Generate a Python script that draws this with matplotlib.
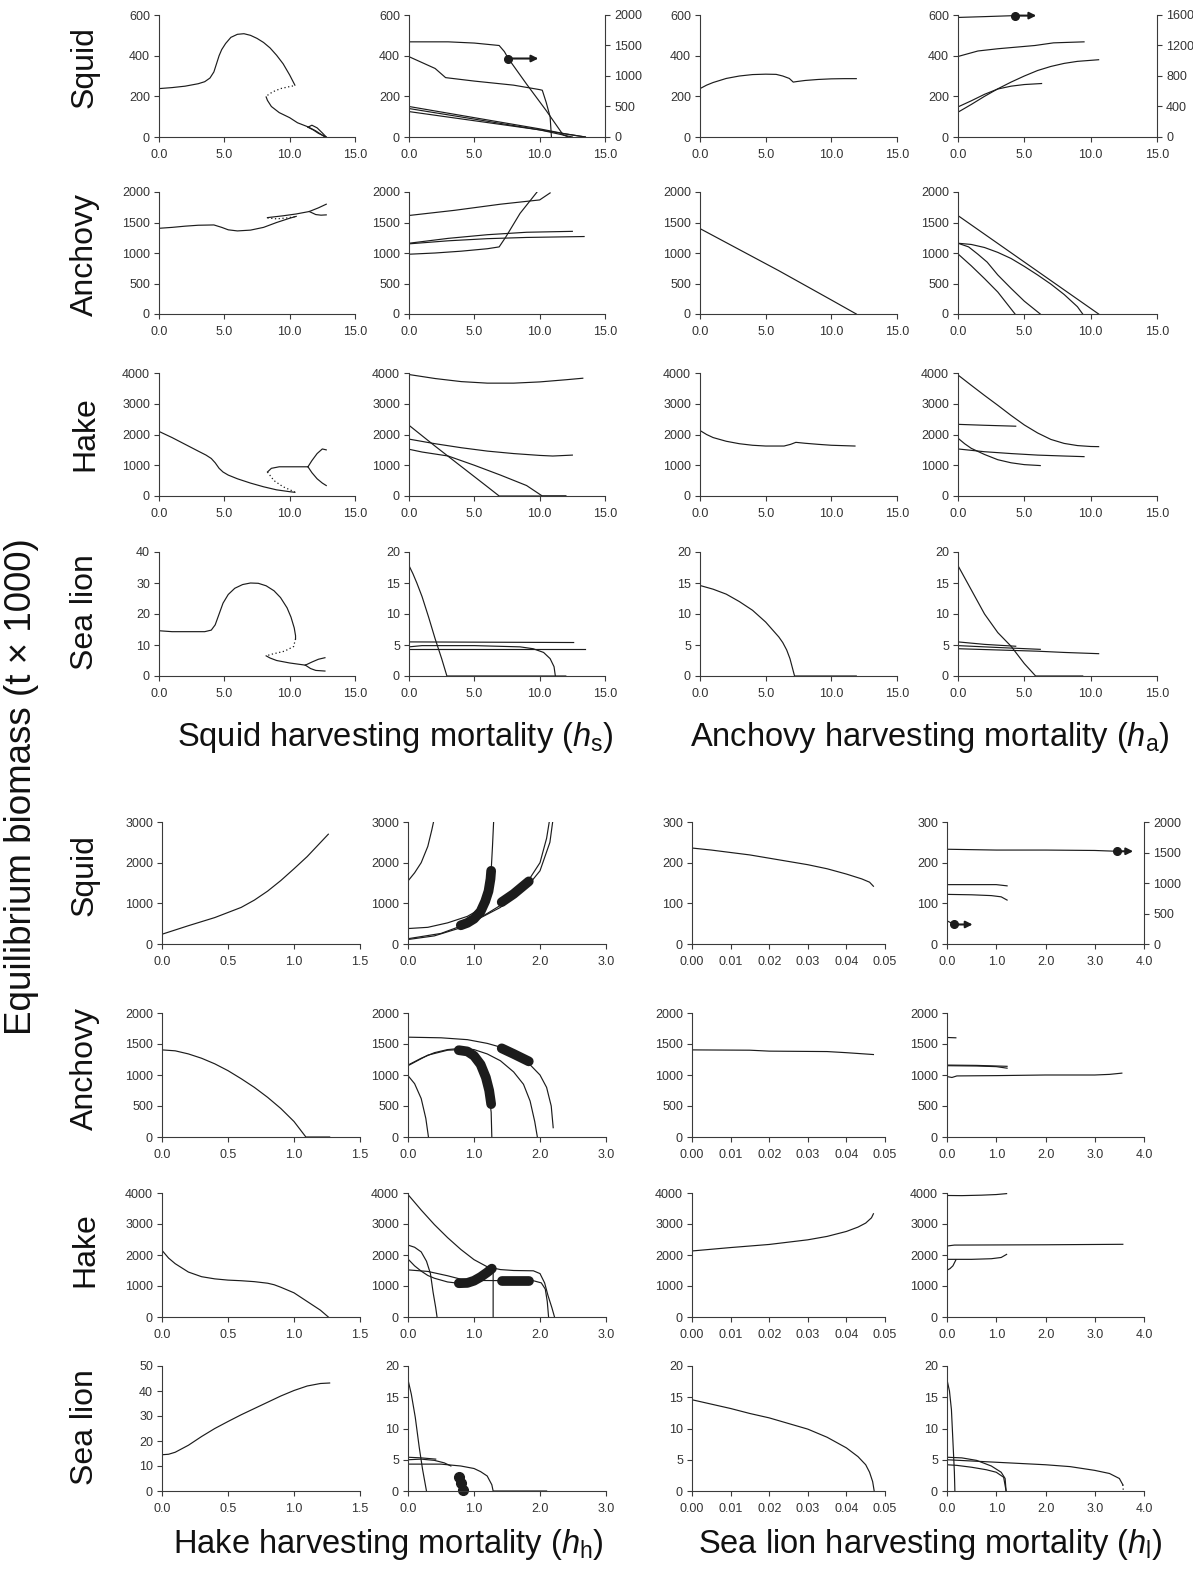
import numpy as np
import matplotlib
matplotlib.use("Agg")
import matplotlib.pyplot as plt

plt.rcParams["font.family"] = ["Liberation Sans", "DejaVu Sans"]
plt.rcParams["mathtext.fontset"] = "custom"
plt.rcParams["mathtext.rm"] = "Liberation Sans"
plt.rcParams["mathtext.it"] = "Liberation Sans:italic"

W, H = 1193, 1572
INK = "#1c1c1c"
AXIS = "#3a3a3a"

SPECIES = ["Squid", "Anchovy", "Hake", "Sea lion"]

# ---- squid harvesting (h_s), single-species column ----
SQUID_HS = [
    ([0, 1, 2, 3, 3.5, 3.9, 4.2, 4.4, 4.6, 4.8, 5.1, 5.5, 6.0, 6.5, 7.0, 7.5, 8.0, 8.5, 9.0, 9.5, 10.0, 10.4],
     [238, 243, 250, 262, 272, 290, 320, 360, 400, 430, 460, 490, 505, 508, 500, 485, 465, 438, 402, 360, 305, 255]),
    ([8.2, 8.3, 8.6, 9.2, 10.0, 10.6, 11.4, 12.0, 12.7], [197, 180, 150, 120, 95, 70, 50, 30, 0]),
    ([11.4, 11.7, 12.1, 12.5, 12.8], [48, 58, 45, 20, 0]),
    ([11.4, 11.8, 12.2, 12.8], [48, 35, 18, 0]),
]
SQUID_HS_UNSTABLE = [([8.3, 8.7, 9.3, 10.0, 10.4], [205, 222, 238, 248, 253])]

ANCHOVY_HS = [
    ([0, 1, 2, 3, 4.2, 4.8, 5.3, 6, 7, 8, 9, 10, 10.5],
     [1405, 1420, 1440, 1455, 1460, 1420, 1380, 1362, 1375, 1420, 1500, 1570, 1600]),
    ([8.3, 9.5, 10.5, 11.5, 12.2, 12.8], [1580, 1610, 1640, 1680, 1740, 1800]),
    ([11.5, 12.0, 12.4, 12.8], [1680, 1630, 1620, 1625]),
]
ANCHOVY_HS_UNSTABLE = [([8.3, 9.0, 9.8, 10.5], [1575, 1560, 1575, 1600])]

HAKE_HS = [
    ([0, 1, 2, 3, 3.6, 4.0, 4.3, 4.6, 4.9, 5.3, 6, 7, 8, 9, 10, 10.4],
     [2100, 1900, 1680, 1460, 1330, 1220, 1080, 900, 780, 680, 560, 420, 300, 200, 140, 120]),
    ([8.3, 8.6, 9.2, 11.4], [780, 900, 950, 950]),
    ([11.4, 11.7, 12.1, 12.5, 12.8], [950, 1150, 1380, 1530, 1500]),
    ([11.4, 11.7, 12.1, 12.5, 12.8], [950, 760, 560, 420, 340]),
]
HAKE_HS_UNSTABLE = [([8.3, 8.8, 9.5, 10.4], [780, 500, 300, 130])]

SEALION_HS = [
    ([0, 1, 3.5, 4.0, 4.3, 4.6, 4.9, 5.3, 5.8, 6.4, 7.0, 7.6, 8.2, 8.8, 9.3, 9.8, 10.1, 10.35, 10.45, 10.45],
     [14.6, 14.3, 14.3, 14.8, 16.5, 20, 23.5, 26.3, 28.3, 29.5, 30, 29.9, 29.1, 27.5, 25.3, 22, 19, 15.5, 13, 12]),
    ([8.2, 8.5, 9, 10, 11.2], [6.5, 5.8, 5, 4.2, 3.5]),
    ([11.2, 11.7, 12.2, 12.7], [3.5, 4.5, 5.4, 5.9]),
    ([11.2, 11.6, 12, 12.7], [3.5, 2.4, 1.8, 1.6]),
]
SEALION_HS_UNSTABLE = [([10.45, 10.3, 9.6, 8.6, 8.2], [12, 9.5, 8, 7, 6.5])]

# ---- squid harvesting (h_s), multi-species column ----
SQUID_HS_M = [
    ([0, 3, 5, 6.9, 7.3, 7.6, 9, 10.5, 11.8, 12.2], [468, 468, 462, 450, 420, 386, 260, 130, 10, 0]),
    ([0, 2, 2.8, 5, 8, 10.0, 10.2, 10.5, 10.8, 10.9], [395, 337, 292, 275, 255, 233, 230, 170, 99, 0]),
    ([0, 5, 10, 12, 13.5], [150, 95, 40, 15, 0]),
    ([0, 5, 10, 12.5], [140, 88, 35, 0]),
    ([0, 5, 10, 13.5], [125, 80, 35, 0]),
]
SQUID_HS_M_ARROW = [(7.6, 9.9, 386)]

ANCHOVY_HS_M = [
    ([0, 3.5, 7, 10, 10.8], [1615, 1700, 1800, 1870, 1985]),
    ([0, 2, 4, 6, 6.9, 7.4, 8.5, 9.8], [980, 1000, 1030, 1070, 1100, 1260, 1650, 2000]),
    ([0, 3, 6, 9, 12.5], [1160, 1240, 1300, 1340, 1355]),
    ([0, 3, 6, 9, 13.4], [1150, 1200, 1235, 1255, 1270]),
]

HAKE_HS_M = [
    ([0, 2, 4, 6, 8, 10, 12, 13.3], [3950, 3820, 3720, 3670, 3670, 3710, 3780, 3830]),
    ([0, 2, 4, 6, 8, 10, 11, 12.5], [1850, 1700, 1570, 1460, 1380, 1320, 1300, 1330]),
    ([0, 1, 3, 5, 7, 9, 10.2, 12], [1520, 1430, 1300, 1000, 680, 340, 0, 0]),
    ([0, 2, 4, 6, 6.9, 12], [2300, 1620, 960, 300, 0, 0]),
]

SEALION_HS_M = [
    ([0, 0.3, 0.6, 1, 1.5, 2, 2.5, 2.9, 11.2], [17.8, 16.5, 15.0, 12.8, 9.5, 6, 2.8, 0, 0]),
    ([0, 12.6], [5.5, 5.4]),
    ([0, 1, 5, 8.5, 9.5, 10.3, 10.8, 11.1, 11.2, 12], [4.7, 4.9, 4.9, 4.7, 4.4, 3.8, 2.8, 1.5, 0, 0]),
    ([0, 13.5], [4.3, 4.3]),
]

# ---- anchovy harvesting (h_a), single-species column ----
SQUID_HA = [([0, 0.5, 1, 2, 3, 4, 5, 5.8, 6.3, 6.8, 7.1, 7.4, 8, 9, 10, 11, 11.9],
              [238, 255, 268, 288, 300, 307, 309, 308, 300, 288, 270, 273, 278, 283, 286, 287, 287])]
ANCHOVY_HA = [([0, 2, 4, 6, 8, 10, 11.9], [1400, 1170, 940, 710, 470, 230, 0])]
HAKE_HA = [([0, 0.5, 1, 2, 3, 4, 5, 6.4, 6.9, 7.3, 8, 9, 10, 11.8],
             [2130, 2000, 1900, 1780, 1700, 1650, 1625, 1625, 1680, 1745, 1715, 1680, 1650, 1625])]
SEALION_HA = [([0, 1, 2, 3, 4, 5, 5.5, 6, 6.3, 6.6, 6.85, 7.05, 7.2, 11.9],
                [14.6, 14, 13.2, 12, 10.6, 8.7, 7.5, 6.3, 5.4, 4.2, 2.8, 1.2, 0, 0])]

# ---- anchovy harvesting (h_a), multi-species column ----
SQUID_HA_M = [
    ([0, 2, 4.3], [588, 592, 597]),
    ([0, 1.5, 3, 5.8, 7.2, 9.5], [396, 423, 434, 450, 463, 468]),
    ([0, 1, 2, 3, 4, 5, 6, 7, 8, 9, 10.6], [122, 160, 200, 237, 270, 300, 327, 347, 362, 372, 380]),
    ([0, 1, 2, 3, 4, 5, 6.3], [148, 178, 210, 236, 250, 258, 263]),
]
SQUID_HA_M_ARROW = [(4.3, 5.9, 597)]

ANCHOVY_HA_M = [
    ([0, 10.6], [1613, 0]),
    ([0, 1, 2, 3, 4, 5, 6, 7, 8, 9, 9.4], [1160, 1140, 1090, 1010, 910, 780, 640, 490, 320, 120, 0]),
    ([0, 0.8, 1.5, 2.2, 3, 4, 5, 6.2], [1160, 1100, 980, 850, 640, 420, 210, 0]),
    ([0, 1, 2, 3, 4.3], [985, 790, 580, 360, 0]),
]

HAKE_HA_M = [
    ([0, 1, 2, 3, 4, 5, 6, 7, 8, 9, 10, 10.6],
     [3935, 3600, 3270, 2950, 2620, 2310, 2050, 1840, 1710, 1640, 1610, 1605]),
    ([0, 2, 4.35], [2330, 2300, 2270]),
    ([0, 2, 4, 6, 8, 9.5], [1530, 1440, 1380, 1330, 1300, 1280]),
    ([0, 0.5, 1, 2, 3, 4, 5, 6.2], [1880, 1700, 1550, 1350, 1180, 1080, 1020, 990]),
]

SEALION_HA_M = [
    ([0, 1, 2, 3, 4, 5, 5.85, 9.4], [17.8, 13.9, 10, 7, 4.8, 2, 0, 0]),
    ([0, 2, 4.35], [5.5, 5.1, 4.8]),
    ([0, 3, 6.2], [4.9, 4.6, 4.3]),
    ([0, 3, 6, 8, 10.6], [4.4, 4.2, 4.0, 3.8, 3.6]),
]

# ---- hake harvesting (h_h) ----
SQUID_HH = [([0, 0.2, 0.4, 0.6, 0.7, 0.8, 0.9, 1.0, 1.1, 1.26],
              [240, 450, 650, 900, 1080, 1300, 1560, 1850, 2150, 2700])]
SQUID_HH_M = [
    ([0, 0.1, 0.2, 0.3, 0.36, 0.4], [1550, 1750, 2000, 2400, 2800, 3100]),
    ([0, 0.3, 0.6, 0.9, 1.05, 1.15, 1.22, 1.26, 1.28, 1.3], [380, 410, 520, 680, 820, 1000, 1300, 1800, 2400, 3100]),
    ([0, 0.4, 0.8, 1.2, 1.5, 1.8, 2.0, 2.1, 2.15], [110, 200, 400, 750, 1050, 1500, 2000, 2600, 3100]),
    ([0, 0.5, 1.0, 1.4, 1.8, 2.0, 2.15, 2.2], [130, 260, 560, 900, 1400, 1800, 2500, 3100]),
]
SQUID_HH_M_CYCLE = [
    ([0.8, 0.9, 1.0, 1.1, 1.17, 1.22, 1.25, 1.26], [460, 520, 620, 800, 1050, 1300, 1600, 1800]),
    ([1.42, 1.6, 1.83], [1030, 1230, 1540]),
]

ANCHOVY_HH = [([0, 0.1, 0.2, 0.3, 0.4, 0.5, 0.6, 0.7, 0.8, 0.9, 1.0, 1.09, 1.27],
                [1405, 1390, 1340, 1270, 1180, 1070, 940, 800, 640, 460, 250, 0, 0])]
ANCHOVY_HH_M = [
    ([0, 0.5, 0.9, 1.2, 1.5, 1.8, 2.0, 2.1, 2.17, 2.2], [1610, 1600, 1570, 1510, 1420, 1220, 1000, 800, 500, 150]),
    ([0, 0.2, 0.4, 0.6, 0.8, 1.0, 1.2, 1.4, 1.6, 1.75, 1.85, 1.92, 1.96],
     [1160, 1270, 1360, 1410, 1430, 1410, 1340, 1230, 1050, 850, 580, 250, 0]),
    ([0, 0.3, 0.6, 0.8, 1.0, 1.15, 1.22, 1.26, 1.27], [1150, 1320, 1400, 1410, 1300, 1050, 750, 400, 0]),
    ([0, 0.1, 0.2, 0.27, 0.31], [990, 860, 620, 300, 0]),
]
ANCHOVY_HH_M_CYCLE = [
    ([0.77, 0.9, 1.0, 1.1, 1.18, 1.23, 1.26], [1400, 1380, 1310, 1170, 960, 750, 530]),
    ([1.42, 1.6, 1.83], [1430, 1340, 1220]),
]

HAKE_HH = [([0, 0.05, 0.1, 0.2, 0.3, 0.4, 0.5, 0.6, 0.7, 0.8, 0.85, 0.9, 1.0, 1.1, 1.2, 1.26],
             [2150, 1900, 1720, 1450, 1300, 1230, 1190, 1170, 1140, 1090, 1040, 960, 780, 500, 220, 0])]
HAKE_HH_M = [
    ([0, 0.2, 0.4, 0.6, 0.8, 1.0, 1.2, 1.4, 1.6, 1.9, 2.0, 2.07, 2.12, 2.18, 2.22],
     [3950, 3450, 2980, 2560, 2180, 1850, 1620, 1530, 1500, 1490, 1400, 1100, 700, 300, 0]),
    ([0, 0.1, 0.2, 0.28, 0.34, 0.38, 0.42, 0.44], [2320, 2250, 2100, 1800, 1400, 800, 300, 0]),
    ([0, 0.1, 0.2, 0.3, 0.4, 0.6, 0.8, 0.9, 1.0, 1.1, 1.2, 1.28, 1.29, 1.29],
     [1870, 1650, 1480, 1340, 1250, 1130, 1080, 1100, 1170, 1280, 1420, 1550, 1450, 0]),
    ([0, 0.3, 0.6, 0.8, 1.0, 1.3, 1.6, 1.9, 2.02, 2.08, 2.11, 2.13],
     [1520, 1470, 1330, 1220, 1180, 1175, 1175, 1170, 1100, 900, 500, 0]),
]
HAKE_HH_M_CYCLE = [
    ([0.77, 0.9, 1.0, 1.1, 1.2, 1.27], [1090, 1100, 1170, 1290, 1440, 1560]),
    ([1.42, 1.84], [1175, 1175]),
]

SEALION_HH = [([0, 0.05, 0.1, 0.2, 0.3, 0.4, 0.5, 0.6, 0.7, 0.8, 0.9, 1.0, 1.1, 1.2, 1.27],
                [14.5, 14.7, 15.5, 18.3, 21.8, 25, 27.8, 30.5, 33, 35.5, 38, 40.2, 42, 43, 43.2])]
SEALION_HH_M = [
    ([0, 0.05, 0.11, 0.17, 0.22, 0.28], [17.8, 15.5, 11.8, 7, 3.5, 0]),
    ([0, 0.2, 0.42], [5.4, 5.3, 5.1]),
    ([0, 0.2, 0.4, 0.55, 0.65], [5.0, 5.1, 4.9, 4.5, 4.0]),
    ([0, 0.5, 0.8, 1.0, 1.1, 1.2, 1.27, 1.29, 2.1], [4.3, 4.3, 4.0, 3.6, 3.1, 2.4, 1.0, 0, 0]),
]
SEALION_HH_M_CYCLE_PTS = [([0.78, 0.80, 0.83], [2.2, 1.3, 0.1])]

# ---- sea lion harvesting (h_l) ----
SQUID_HL = [([0, 0.005, 0.01, 0.015, 0.02, 0.025, 0.03, 0.035, 0.04, 0.044, 0.046, 0.047],
              [236, 231, 225, 219, 211, 203, 195, 185, 172, 160, 152, 142])]
SQUID_HL_M = [
    ([0, 1, 2, 3, 3.45], [233, 231, 231, 230, 228]),
    ([0, 1.0, 1.22], [146, 146, 143]),
    ([0, 0.5, 0.9, 1.1, 1.22], [122, 121, 119, 116, 108]),
    ([0, 0.15], [57, 48]),
]
SQUID_HL_M_ARROW = [(3.45, 3.78, 228), (0.15, 0.52, 48)]

ANCHOVY_HL = [([0, 0.015, 0.02, 0.035, 0.04, 0.047], [1405, 1400, 1385, 1378, 1360, 1330])]
ANCHOVY_HL_M = [
    ([0, 0.18], [1605, 1600]),
    ([0, 0.6, 1.22], [1160, 1155, 1140]),
    ([0, 0.6, 1.0, 1.22], [1150, 1145, 1135, 1110]),
    ([0, 0.1, 0.2, 1, 2, 3, 3.3, 3.55], [975, 960, 985, 990, 1000, 1000, 1010, 1030]),
]

HAKE_HL = [([0, 0.01, 0.02, 0.03, 0.035, 0.04, 0.043, 0.045, 0.0465, 0.047],
             [2130, 2240, 2340, 2490, 2600, 2760, 2900, 3030, 3200, 3330])]
HAKE_HL_M = [
    ([0, 0.3, 0.7, 1.0, 1.21], [3920, 3915, 3930, 3950, 3980]),
    ([0, 0.15, 2, 3.57], [2290, 2320, 2330, 2345]),
    ([0, 0.5, 0.9, 1.1, 1.21], [1860, 1860, 1880, 1920, 2020]),
    ([0, 0.06, 0.12, 0.18], [1510, 1560, 1650, 1840]),
]

SEALION_HL = [([0, 0.005, 0.01, 0.015, 0.02, 0.025, 0.03, 0.035, 0.04, 0.043, 0.045, 0.046, 0.0468, 0.0472],
                [14.6, 13.9, 13.2, 12.4, 11.7, 10.8, 9.9, 8.6, 6.9, 5.5, 4.2, 3, 1.5, 0])]
SEALION_HL_M = [
    ([0, 0.05, 0.09, 0.12, 0.15, 0.16], [17.8, 16, 13, 8, 3, 0]),
    ([0, 0.5, 1, 1.5, 2, 2.5, 3, 3.3, 3.5, 3.57], [5.0, 4.8, 4.6, 4.4, 4.2, 3.9, 3.3, 2.8, 2.0, 1.0]),
    ([0, 0.3, 0.6, 0.9, 1.1, 1.18, 1.2], [5.4, 5.3, 4.9, 4.0, 3.0, 2.0, 0]),
    ([0, 0.2, 0.5, 0.8, 1.0, 1.15, 1.2], [4.2, 4.1, 3.8, 3.4, 3.0, 2.2, 0]),
]
SEALION_HL_M_UNSTABLE = [([3.57, 3.58], [1.0, 0])]

# pixel layout of the two blocks
TOP_COLS = [(159, 355), (409, 605), (700, 897), (958, 1157)]
TOP_ROWS = [(15, 137), (192, 314), (373, 496), (552, 676)]
BOT_COLS = [(162, 360), (408, 606), (692, 885), (947, 1144)]
BOT_ROWS = [(822, 944), (1013, 1137), (1193, 1317), (1366, 1491)]
TOP_LABEL_Y = [67, 255, 434, 612]
BOT_LABEL_Y = [875, 1068, 1250, 1427]

YSTEP = {600: 200, 2000: 500, 4000: 1000, 40: 10, 20: 5, 3000: 1000, 300: 100, 50: 10, 1600: 400}


def px_box(cols, rows):
    (x0, x1), (y0, y1) = cols, rows
    return [x0 / W, 1 - y1 / H, (x1 - x0) / W, (y1 - y0) / H]


def style_ax(ax):
    for side in ("top", "right"):
        ax.spines[side].set_visible(False)
    for side in ("left", "bottom"):
        ax.spines[side].set_color(AXIS)
        ax.spines[side].set_linewidth(0.8)
    ax.tick_params(length=3.5, width=0.8, color=AXIS, labelsize=9, labelcolor="#333333")
    ax.tick_params(axis="x", pad=5)
    ax.tick_params(axis="y", pad=3)


def panel(fig, box, curves, xmax, nx, xdec, ymax, unstable=(), cycle=(), cycle_pts=(),
          arrows=(), right=None):
    ax = fig.add_axes(box)
    for xs, ys in curves:
        ax.plot(xs, ys, color=INK, lw=0.85, solid_joinstyle="round")
    for xs, ys in unstable:
        ax.plot(xs, ys, color=INK, lw=0.9, ls=(0, (1, 2)))
    for xs, ys in cycle:
        ax.plot(xs, ys, color=INK, lw=7, solid_capstyle="round", solid_joinstyle="round")
    for xs, ys in cycle_pts:
        ax.plot(xs, ys, "o", color=INK, ms=7, clip_on=False)
    for x0, x1, y in arrows:
        ax.annotate("", xy=(x1, y), xytext=(x0, y),
                    arrowprops=dict(arrowstyle="-|>", color=INK, lw=1.5,
                                    mutation_scale=10, shrinkA=0, shrinkB=0))
        ax.plot([x0], [y], "o", color=INK, ms=5.5, clip_on=False)
    ax.set_xlim(0, xmax)
    ax.set_ylim(0, ymax)
    xt = np.linspace(0, xmax, nx + 1)
    ax.set_xticks(xt)
    ax.set_xticklabels([f"{v:.{xdec}f}" for v in xt])
    ax.set_yticks(np.arange(0, ymax + 1e-9, YSTEP[ymax]))
    style_ax(ax)
    if right is not None:
        ax2 = ax.twinx()
        ax2.set_ylim(0, right)
        ax2.set_yticks(np.arange(0, right + 1e-9, YSTEP.get(right, 500)))
        for side in ("top", "left", "bottom"):
            ax2.spines[side].set_visible(False)
        ax2.spines["right"].set_color(AXIS)
        ax2.spines["right"].set_linewidth(0.8)
        ax2.tick_params(length=3.5, width=0.8, color=AXIS, labelsize=9,
                        labelcolor="#333333", pad=3)
    return ax


def main():
    fig = plt.figure(figsize=(W / 100, H / 100), dpi=100)

    top_grid = [
        [SQUID_HS, SQUID_HS_M, SQUID_HA, SQUID_HA_M],
        [ANCHOVY_HS, ANCHOVY_HS_M, ANCHOVY_HA, ANCHOVY_HA_M],
        [HAKE_HS, HAKE_HS_M, HAKE_HA, HAKE_HA_M],
        [SEALION_HS, SEALION_HS_M, SEALION_HA, SEALION_HA_M],
    ]
    top_ymax = [[600] * 4, [2000] * 4, [4000] * 4, [40, 20, 20, 20]]
    top_extra = {
        (0, 0): dict(unstable=SQUID_HS_UNSTABLE),
        (1, 0): dict(unstable=ANCHOVY_HS_UNSTABLE),
        (2, 0): dict(unstable=HAKE_HS_UNSTABLE),
        (3, 0): dict(unstable=SEALION_HS_UNSTABLE),
        (0, 1): dict(arrows=SQUID_HS_M_ARROW, right=2000),
        (0, 3): dict(arrows=SQUID_HA_M_ARROW, right=1600),
    }
    for r in range(4):
        for c in range(4):
            panel(fig, px_box(TOP_COLS[c], TOP_ROWS[r]), top_grid[r][c], 15, 3, 1,
                  top_ymax[r][c], **top_extra.get((r, c), {}))

    bot_grid = [
        [SQUID_HH, SQUID_HH_M, SQUID_HL, SQUID_HL_M],
        [ANCHOVY_HH, ANCHOVY_HH_M, ANCHOVY_HL, ANCHOVY_HL_M],
        [HAKE_HH, HAKE_HH_M, HAKE_HL, HAKE_HL_M],
        [SEALION_HH, SEALION_HH_M, SEALION_HL, SEALION_HL_M],
    ]
    bot_ymax = [[3000, 3000, 300, 300], [2000] * 4, [4000] * 4, [50, 20, 20, 20]]
    bot_x = [(1.5, 3, 1), (3.0, 3, 1), (0.05, 5, 2), (4.0, 4, 1)]
    bot_extra = {
        (0, 1): dict(cycle=SQUID_HH_M_CYCLE),
        (1, 1): dict(cycle=ANCHOVY_HH_M_CYCLE),
        (2, 1): dict(cycle=HAKE_HH_M_CYCLE),
        (3, 1): dict(cycle_pts=SEALION_HH_M_CYCLE_PTS),
        (0, 3): dict(arrows=SQUID_HL_M_ARROW, right=2000),
        (3, 3): dict(unstable=SEALION_HL_M_UNSTABLE),
    }
    for r in range(4):
        for c in range(4):
            xmax, nx, xdec = bot_x[c]
            panel(fig, px_box(BOT_COLS[c], BOT_ROWS[r]), bot_grid[r][c], xmax, nx, xdec,
                  bot_ymax[r][c], **bot_extra.get((r, c), {}))

    for name, yt, yb in zip(SPECIES, TOP_LABEL_Y, BOT_LABEL_Y):
        for y in (yt, yb):
            fig.text(85 / W, 1 - y / H, name, rotation=90, ha="center", va="center",
                     fontsize=23, color="#111111")

    big = dict(fontsize=23.5, color="#111111", ha="center", va="center")
    fig.text(395 / W, 1 - 738 / H, r"Squid harvesting mortality ($\mathit{h}_\mathrm{s}$)", **big)
    fig.text(930 / W, 1 - 738 / H, r"Anchovy harvesting mortality ($\mathit{h}_\mathrm{a}$)", **big)
    fig.text(388 / W, 1 - 1545 / H, r"Hake harvesting mortality ($\mathit{h}_\mathrm{h}$)", **big)
    fig.text(930 / W, 1 - 1545 / H, r"Sea lion harvesting mortality ($\mathit{h}_\mathrm{l}$)", **big)
    fig.text(22 / W, 1 - 787 / H, "Equilibrium biomass (t \u00d7 1000)", rotation=90,
             ha="center", va="center", fontsize=26.5, color="#111111")

    fig.savefig("out.png", dpi=100, facecolor="white")
    plt.close(fig)


if __name__ == "__main__":
    main()
